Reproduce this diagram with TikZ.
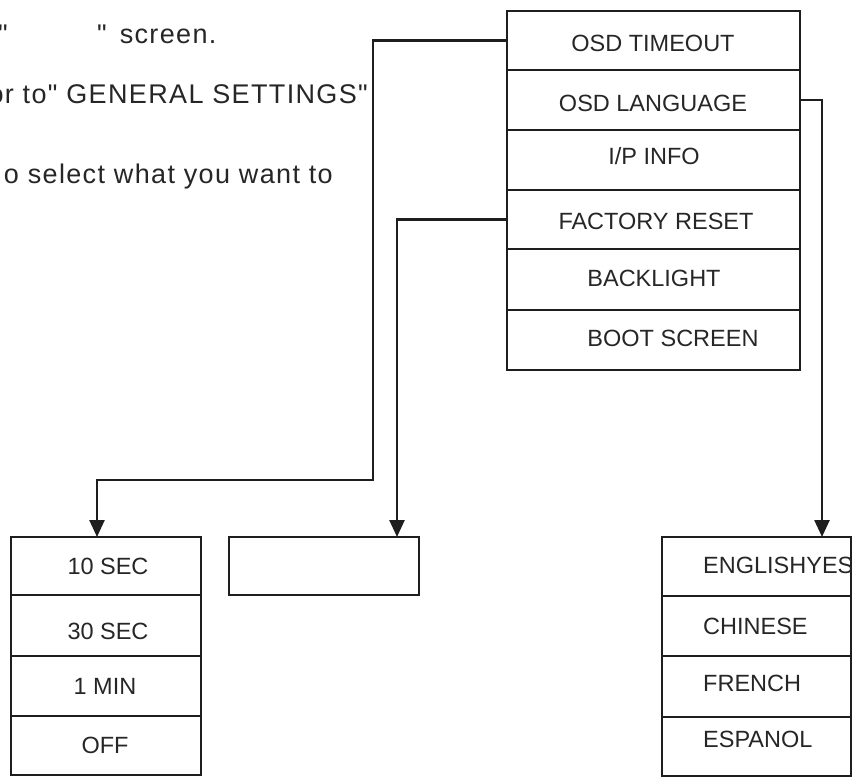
\documentclass[tikz,border=0pt]{standalone}
\usepackage{fontspec}
\setmainfont{Liberation Sans}
\newfontfamily\toptextfont[LetterSpace=5.0]{Liberation Sans}
\usetikzlibrary{arrows.meta}
\definecolor{ink}{HTML}{1E1E1E}
\definecolor{txt}{HTML}{262626}
\tikzset{
  x=1pt, y=-1pt,
  cell/.style={draw=ink, line width=2.6pt, inner sep=0pt, outer sep=0pt, rectangle},
  lbl/.style={inner sep=0pt, text=txt, font=\fontsize{23.5}{26}\selectfont},
  toplbl/.style={inner sep=0pt, text=txt, font=\toptextfont\fontsize{27}{30}\selectfont},
  conn/.style={draw=ink, line width=2.5pt, -{Triangle[length=17pt,width=15pt]}},
}
\begin{document}
\begin{tikzpicture}
\useasboundingbox (0,0) rectangle (862,779);
\clip (0,0) rectangle (862,779);
% top-left text
\node[toplbl, anchor=base east] (q1) at (8,43) {"};
\node[toplbl, anchor=base west] (q2) at (97,43) {"\hspace{13pt}screen.};
\node[toplbl, anchor=base east] (l2) at (368,103) {or to" GENERAL SETTINGS"};
\node[toplbl, anchor=base east] (l3) at (333,183) {o select what you want to};
% main menu
\node[cell, minimum width=293pt, minimum height=59pt] (r1) at (653.5,40.5) {};
\node[cell, minimum width=293pt, minimum height=60pt] (r2) at (653.5,100) {};
\node[cell, minimum width=293pt, minimum height=60pt] (r3) at (653.5,160) {};
\node[cell, minimum width=293pt, minimum height=59pt] (r4) at (653.5,219.5) {};
\node[cell, minimum width=293pt, minimum height=61pt] (r5) at (653.5,279.5) {};
\node[cell, minimum width=293pt, minimum height=60pt] (r6) at (653.5,340) {};
\node[lbl] (t1) at (653,43) {OSD TIMEOUT};
\node[lbl] (t2) at (653,103) {OSD LANGUAGE};
\node[lbl] (t3) at (654,156) {I/P INFO};
\node[lbl] (t4) at (656,221) {FACTORY RESET};
\node[lbl] (t5) at (654,278) {BACKLIGHT};
\node[lbl] (t6) at (673,338) {BOOT SCREEN};
% timeout box
\node[cell, minimum width=190pt, minimum height=58pt] (s1) at (106,566) {};
\node[cell, minimum width=190pt, minimum height=61pt] (s2) at (106,625.5) {};
\node[cell, minimum width=190pt, minimum height=60pt] (s3) at (106,686) {};
\node[cell, minimum width=190pt, minimum height=59pt] (s4) at (106,745.5) {};
\node[lbl] (u1) at (108,566) {10 SEC};
\node[lbl] (u2) at (108,631) {30 SEC};
\node[lbl] (u3) at (105,686) {1 MIN};
\node[lbl] (u4) at (105,745) {OFF};
% factory reset box
\node[cell, minimum width=190pt, minimum height=58pt] (f1) at (324,566) {};
% language box
\node[cell, minimum width=189pt, minimum height=59pt] (g1) at (756.5,566.5) {};
\node[cell, minimum width=189pt, minimum height=60pt] (g2) at (756.5,626) {};
\node[cell, minimum width=189pt, minimum height=61pt] (g3) at (756.5,686.5) {};
\node[cell, minimum width=189pt, minimum height=59pt] (g4) at (756.5,746.5) {};
\node[lbl, anchor=west] (v1) at (703,565) {ENGLISHYES};
\node[lbl, anchor=west] (v2) at (703,626) {CHINESE};
\node[lbl, anchor=west] (v3) at (703,683) {FRENCH};
\node[lbl, anchor=west] (v4) at (703,739) {ESPANOL};
% connectors
\coordinate (bend1) at (373,480);
\coordinate (end1) at (97,537);
\coordinate (end2) at (397,537);
\coordinate (end3) at (822,537);
\draw[conn] (r1.west) -| (bend1) -| (end1);
\draw[conn] (r4.west) -| (end2);
\draw[conn] (r2.east) -| (end3);
\end{tikzpicture}
\end{document}
